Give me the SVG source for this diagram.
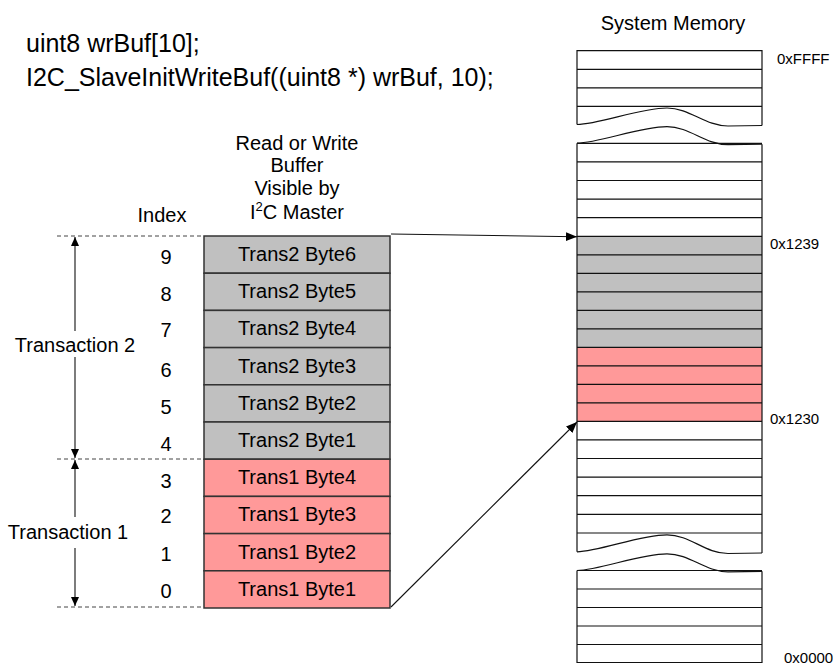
<svg xmlns="http://www.w3.org/2000/svg" width="833" height="664" viewBox="0 0 833 664">
<defs>
<style>
text{font-family:"Liberation Sans",Arial,sans-serif;fill:#000}
.t20{font-size:20px}
.code{font-size:25px}
.addr{font-size:15px}
.mid{text-anchor:middle}
.cell{stroke:#333;stroke-width:1.5}
.grey{fill:#c0c0c0}
.red{fill:#ff9999}
.mem{fill:none;stroke:#111;stroke-width:1.2}
.dash{stroke:#444;stroke-width:1;stroke-dasharray:4 3;fill:none}
.conn{stroke:#111;stroke-width:1.1;fill:none}
</style>
<marker id="ah" markerUnits="userSpaceOnUse" markerWidth="12" markerHeight="10" refX="11" refY="4.5" orient="auto">
<path d="M0,0 L11,4.5 L0,9 z" fill="#000"/>
</marker>
<marker id="ahs" markerUnits="userSpaceOnUse" markerWidth="10" markerHeight="9" refX="9" refY="4" orient="auto">
<path d="M0,0 L9,4 L0,8 z" fill="#000"/>
</marker>
</defs>
<rect width="833" height="664" fill="#fff"/>

<g id="code">
<text class="code" x="26" y="52">uint8 wrBuf[10];</text>
<text class="code" x="26" y="86">I2C_SlaveInitWriteBuf((uint8 *) wrBuf, 10);</text>
</g>

<g id="buffer-title">
<text class="t20 mid" x="297" y="150">Read or Write</text>
<text class="t20 mid" x="297" y="172">Buffer</text>
<text class="t20 mid" x="297" y="195">Visible by</text>
<text class="t20 mid" x="297" y="219">I<tspan font-size="13" dy="-8">2</tspan><tspan dy="8">C Master</tspan></text>
</g>

<g id="index">
<text class="t20 mid" x="162" y="222">Index</text>
<text class="t20 mid" x="166" y="263.5">9</text>
<text class="t20 mid" x="166" y="300.5">8</text>
<text class="t20 mid" x="166" y="337">7</text>
<text class="t20 mid" x="166" y="376.5">6</text>
<text class="t20 mid" x="166" y="413.5">5</text>
<text class="t20 mid" x="166" y="450.5">4</text>
<text class="t20 mid" x="166" y="487.5">3</text>
<text class="t20 mid" x="166" y="523">2</text>
<text class="t20 mid" x="166" y="561">1</text>
<text class="t20 mid" x="166" y="598">0</text>
</g>

<g id="buffer">
<rect class="cell grey" x="204" y="236" width="186" height="37.2"/>
<rect class="cell grey" x="204" y="273.2" width="186" height="37.2"/>
<rect class="cell grey" x="204" y="310.4" width="186" height="37.2"/>
<rect class="cell grey" x="204" y="347.6" width="186" height="37.2"/>
<rect class="cell grey" x="204" y="384.8" width="186" height="37.2"/>
<rect class="cell grey" x="204" y="422" width="186" height="37.2"/>
<rect class="cell red" x="204" y="459.2" width="186" height="37.2"/>
<rect class="cell red" x="204" y="496.4" width="186" height="37.2"/>
<rect class="cell red" x="204" y="533.6" width="186" height="37.2"/>
<rect class="cell red" x="204" y="570.8" width="186" height="37.2"/>
<text class="t20 mid" x="297" y="261">Trans2 Byte6</text>
<text class="t20 mid" x="297" y="298.2">Trans2 Byte5</text>
<text class="t20 mid" x="297" y="335.4">Trans2 Byte4</text>
<text class="t20 mid" x="297" y="372.6">Trans2 Byte3</text>
<text class="t20 mid" x="297" y="409.8">Trans2 Byte2</text>
<text class="t20 mid" x="297" y="447">Trans2 Byte1</text>
<text class="t20 mid" x="297" y="484.2">Trans1 Byte4</text>
<text class="t20 mid" x="297" y="521.4">Trans1 Byte3</text>
<text class="t20 mid" x="297" y="558.6">Trans1 Byte2</text>
<text class="t20 mid" x="297" y="595.8">Trans1 Byte1</text>
</g>

<g id="transaction-2">
<line class="dash" x1="57" y1="236" x2="204" y2="236"/>
<line class="conn" x1="75" y1="331" x2="75" y2="237" marker-end="url(#ahs)"/>
<line class="conn" x1="75" y1="357" x2="75" y2="458" marker-end="url(#ahs)"/>
<text class="t20 mid" x="75" y="352">Transaction 2</text>
</g>

<g id="transaction-1">
<line class="dash" x1="57" y1="459" x2="204" y2="459"/>
<line class="dash" x1="57" y1="607" x2="204" y2="607"/>
<line class="conn" x1="75" y1="517" x2="75" y2="460" marker-end="url(#ahs)"/>
<line class="conn" x1="75" y1="548" x2="75" y2="606" marker-end="url(#ahs)"/>
<text class="t20 mid" x="68" y="539">Transaction 1</text>
</g>

<g id="system-memory">
<text class="t20 mid" x="673" y="29.5">System Memory</text>
<rect class="grey" x="577" y="236.3" width="185" height="111"/>
<rect class="red" x="577" y="347.3" width="185" height="74"/>
<path class="mem" d="M577,124.5 V50.7 H762 V125.5 M577,69.3 H762 M577,87.9 H762 M577,106.3 H762"/>
<path class="mem" d="M577,124.5 C600,124 640,108 667,108 C690,108 705,126 728,126 L762,125.5"/>
<path class="mem" d="M577,143.2 C600,142.7 640,126.7 667,126.7 C690,126.7 705,144.7 728,144.7 L762,144.2"/>
<path class="mem" d="M577,143.2 V551.8 M762,144.2 V553"/>
<path class="mem" d="M577,143.3 H762 M577,161.9 H762 M577,180.5 H762 M577,199.1 H762 M577,217.7 H762 M577,236.3 H762 M577,254.8 H762 M577,273.3 H762 M577,291.8 H762 M577,310.3 H762 M577,328.8 H762 M577,347.3 H762 M577,365.8 H762 M577,384.3 H762 M577,402.8 H762 M577,421.3 H762 M577,439.9 H762 M577,458.5 H762 M577,477.1 H762 M577,495.7 H762 M577,514.3 H762 M577,533 H762"/>
<path class="mem" d="M577,551.8 C600,551.3 640,534.8 667,534.8 C690,534.8 705,553.5 728,553.5 L762,553"/>
<path class="mem" d="M577,570.5 C600,570 640,553.8 667,553.8 C690,553.8 705,571.8 728,571.8 L762,571.3"/>
<path class="mem" d="M577,570.5 V662.5 H762 V571.3 M577,570.5 H762 M577,589 H762 M577,607.5 H762 M577,626 H762 M577,644.5 H762"/>
<text class="addr" x="777" y="64">0xFFFF</text>
<text class="addr" x="770" y="249">0x1239</text>
<text class="addr" x="770" y="424">0x1230</text>
<text class="addr" x="784" y="663">0x0000</text>
</g>

<g id="connectors">
<line class="conn" x1="391" y1="234" x2="577" y2="236.8" marker-end="url(#ah)"/>
<line class="conn" x1="391" y1="607" x2="577" y2="422" marker-end="url(#ah)"/>
</g>
</svg>
